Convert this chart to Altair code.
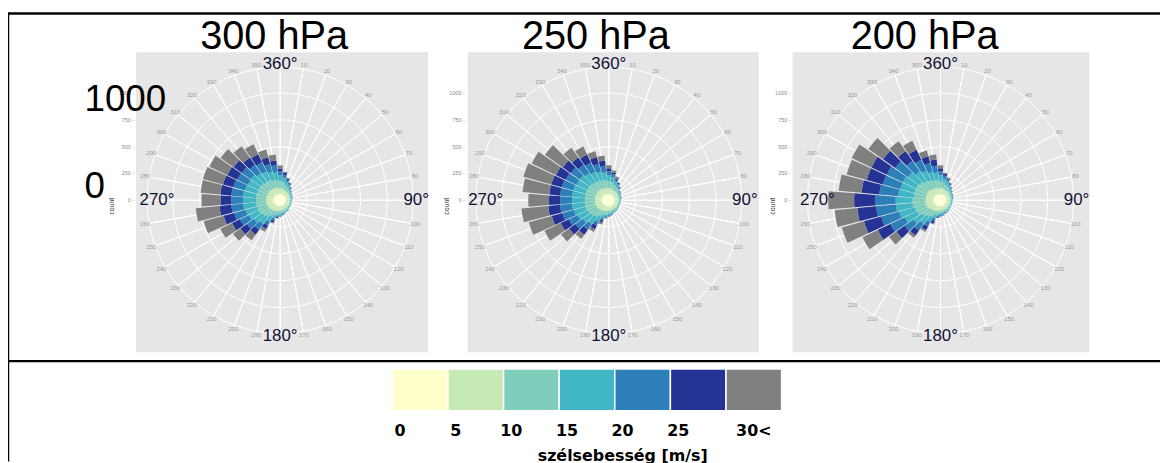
import altair as alt
import pandas as pd

# ---------------- data ----------------
DIRS = [0, 10, 20, 30, 40, 50, 60, 70, 80, 90, 100, 110, 120, 130, 140, 150, 160, 170,
        180, 190, 200, 210, 220, 230, 240, 250, 260, 270, 280, 290, 300, 310, 320, 330, 340, 350]
SPEED_CLASSES = ["0-5", "5-10", "10-15", "15-20", "20-25", "25-30", "30<"]
SPEED_COLORS = ["#ffffcc", "#c7e9b4", "#7fcdbb", "#41b6c4", "#2c7fb8", "#253494", "#808080"]
LEVELS = ["300 hPa", "250 hPa", "200 hPa"]

# counts per direction bin, one list per speed class
P300_0_5 = [55, 57, 54, 56, 52, 55, 53, 54, 56, 52, 55, 53, 54, 51, 55, 53, 56, 54, 57, 55, 58, 56, 59, 57, 60, 63, 66, 64, 67, 65, 63, 66, 62, 58, 57, 56]
P300_5_10 = [56, 55, 47, 45, 46, 44, 38, 37, 36, 37, 35, 36, 38, 37, 36, 38, 37, 39, 38, 46, 47, 56, 57, 64, 66, 65, 67, 65, 66, 64, 65, 66, 64, 65, 63, 57]
P300_10_15 = [65, 56, 46, 37, 28, 19, 18, 17, 18, 10, 9, 9, 10, 9, 17, 18, 19, 20, 28, 29, 37, 56, 74, 84, 93, 94, 92, 95, 93, 92, 94, 93, 84, 83, 74, 75]
P300_15_20 = [56, 46, 37, 28, 19, 9, 9, 8, 9, 9, 8, 9, 9, 8, 9, 9, 10, 18, 19, 19, 37, 56, 83, 93, 102, 111, 120, 121, 120, 119, 111, 112, 102, 93, 83, 74]
P300_20_25 = [37, 28, 19, 9, 8, 7, 6, 3, 2, 2, 1, 1, 1, 2, 2, 3, 8, 9, 9, 10, 19, 37, 65, 83, 93, 111, 112, 110, 111, 112, 110, 102, 93, 92, 74, 65]
P300_25_30 = [28, 19, 10, 9, 3, 2, 1, 1, 0, 0, 0, 0, 0, 0, 1, 1, 2, 2, 3, 9, 19, 37, 56, 74, 83, 102, 111, 102, 103, 101, 102, 93, 83, 84, 65, 46]
P300_30P = [28, 9, 8, 2, 0, 0, 0, 0, 0, 0, 0, 0, 0, 0, 0, 0, 0, 0, 1, 2, 9, 28, 65, 83, 120, 194, 222, 176, 185, 194, 185, 148, 130, 102, 74, 56]

P250_0_5 = [57, 55, 56, 54, 55, 53, 56, 52, 54, 55, 53, 56, 52, 55, 54, 56, 53, 55, 56, 57, 56, 58, 57, 59, 61, 64, 65, 66, 64, 66, 65, 64, 63, 57, 58, 55]
P250_5_10 = [55, 57, 46, 47, 45, 43, 39, 36, 38, 36, 37, 35, 37, 38, 37, 36, 38, 38, 40, 45, 48, 55, 58, 63, 65, 66, 66, 64, 67, 65, 64, 65, 63, 64, 62, 58]
P250_10_15 = [64, 57, 47, 36, 29, 18, 19, 18, 17, 11, 10, 9, 9, 10, 16, 17, 18, 21, 27, 30, 38, 55, 75, 83, 92, 95, 93, 94, 92, 93, 93, 92, 85, 82, 75, 74]
P250_15_20 = [57, 47, 36, 29, 18, 10, 9, 9, 8, 8, 9, 8, 9, 9, 8, 10, 11, 17, 18, 20, 36, 57, 84, 92, 103, 112, 121, 120, 121, 120, 112, 111, 103, 92, 84, 75]
P250_20_25 = [36, 29, 18, 10, 9, 6, 5, 4, 3, 2, 2, 1, 1, 1, 2, 3, 7, 8, 10, 11, 20, 36, 64, 84, 92, 112, 111, 111, 112, 111, 111, 103, 92, 93, 75, 64]
P250_25_30 = [29, 18, 9, 10, 4, 2, 2, 1, 1, 0, 0, 0, 0, 0, 1, 1, 2, 3, 3, 8, 18, 38, 57, 73, 84, 103, 112, 103, 102, 102, 101, 92, 84, 83, 64, 47]
P250_30P = [28, 19, 19, 0, 0, 0, 0, 0, 0, 0, 0, 0, 0, 0, 0, 0, 0, 0, 0, 0, 19, 28, 46, 93, 167, 222, 250, 194, 250, 269, 250, 204, 111, 83, 56, 46]

P200_0_5 = [56, 54, 57, 55, 53, 56, 54, 52, 55, 53, 56, 54, 53, 55, 52, 56, 54, 57, 55, 56, 58, 57, 59, 60, 64, 65, 66, 67, 65, 66, 64, 65, 63, 58, 56, 57]
P200_5_10 = [56, 56, 46, 46, 46, 45, 37, 38, 36, 37, 36, 38, 37, 36, 37, 38, 37, 38, 37, 46, 46, 56, 56, 65, 74, 74, 75, 74, 73, 74, 75, 74, 65, 65, 65, 56]
P200_10_15 = [65, 56, 46, 37, 28, 19, 18, 19, 18, 10, 9, 10, 9, 10, 18, 19, 18, 19, 28, 28, 37, 56, 74, 83, 102, 111, 120, 120, 111, 111, 111, 102, 93, 83, 74, 74]
P200_15_20 = [56, 37, 37, 28, 19, 9, 10, 9, 9, 8, 9, 9, 8, 9, 9, 10, 10, 19, 18, 19, 37, 56, 83, 102, 130, 148, 157, 157, 148, 139, 139, 130, 111, 102, 83, 74]
P200_20_25 = [37, 28, 19, 9, 9, 8, 7, 5, 4, 3, 2, 2, 2, 3, 3, 4, 9, 9, 10, 9, 28, 46, 74, 102, 148, 176, 185, 194, 176, 167, 167, 148, 120, 111, 83, 65]
P200_25_30 = [28, 19, 9, 9, 3, 2, 1, 1, 0, 0, 0, 0, 0, 0, 1, 1, 2, 3, 4, 9, 19, 37, 56, 93, 130, 167, 176, 194, 167, 157, 157, 139, 111, 102, 65, 56]
P200_30P = [28, 9, 9, 0, 0, 0, 0, 0, 0, 0, 0, 0, 0, 0, 0, 0, 0, 0, 0, 0, 9, 19, 28, 83, 157, 213, 213, 241, 213, 194, 204, 167, 111, 93, 56, 46]

PANEL_DATA = {
    "300 hPa": [P300_0_5, P300_5_10, P300_10_15, P300_15_20, P300_20_25, P300_25_30, P300_30P],
    "250 hPa": [P250_0_5, P250_5_10, P250_10_15, P250_15_20, P250_20_25, P250_25_30, P250_30P],
    "200 hPa": [P200_0_5, P200_5_10, P200_10_15, P200_15_20, P200_20_25, P200_25_30, P200_30P],
}

R_TICKS = [0, 250, 500, 750, 1000]
R_RINGS = [250, 500, 750, 1000]
DEG_LABELS = [10, 20, 30, 40, 50, 60, 70, 80, 100, 110, 120, 130, 140, 150, 160, 170,
              190, 200, 210, 220, 230, 240, 250, 260, 280, 290, 300, 310, 320, 330, 340, 350]
BIG_DEG_TEXT = ["360°", "90°", "180°"]
BIG_DEG_AT = [0, 90, 180]
WEST_TEXT = ["270°"]
WEST_AT = [270]

LEGEND_LABELS = ["0", "5", "10", "15", "20", "25", "30<"]
LEGEND_LO = [0, 5, 10, 15, 20, 25, 30]
LEGEND_HI = [5, 10, 15, 20, 25, 30, 35]
LEGEND_TITLE = "szélsebesség [m/s]"
RADIAL_TEXT = ["1000", "0"]

# ---------------- tables ----------------
rows = []
for lev in LEVELS:
    for ci, arr in enumerate(PANEL_DATA[lev]):
        for d, v in zip(DIRS, arr):
            rows.append({"level": lev, "dir": d, "cls": ci, "speed": SPEED_CLASSES[ci], "count": v})
df = pd.DataFrame(rows)
dir_df = pd.DataFrame({"dir": DIRS})
ring_df = pd.DataFrame({"ring": R_RINGS})
tick_df = pd.DataFrame({"v": R_TICKS})
deg_df = pd.DataFrame({"dir": DEG_LABELS})
big_df = pd.DataFrame({"dir": BIG_DEG_AT, "lab": BIG_DEG_TEXT})
west_df = pd.DataFrame({"dir": WEST_AT, "lab": WEST_TEXT})
leg_df = pd.DataFrame({"speed": SPEED_CLASSES, "lo": LEGEND_LO, "hi": LEGEND_HI, "lab": LEGEND_LABELS})
one = pd.DataFrame({"k": [0]})

TH = alt.Scale(domain=[0, 360])
RS = alt.Scale(type="linear", domain=[0, 1000], range=[0, 108], nice=False, zero=True)
CS = alt.Scale(domain=SPEED_CLASSES, range=SPEED_COLORS)
XS = alt.Scale(domain=[0, 35], range=[387, 779], nice=False, zero=False)
TWO_PI = 6.283185307179586
FONT = "Liberation Sans"


def panel(level, cx, cy, left, right, top, bottom, title_x, tick_x, count_x):
    layers = []
    layers.append(alt.Chart(one).mark_rect(color="#e6e6e6").encode(
        x=alt.value(left), x2=alt.value(right), y=alt.value(top), y2=alt.value(bottom)))
    # spokes + outer circle
    layers.append(alt.Chart(dir_df).transform_calculate(d2="datum.dir + 10").mark_arc(
        fillOpacity=0, stroke="white", strokeWidth=1).encode(
        theta=alt.Theta("dir:Q", scale=TH, stack=False), theta2="d2:Q",
        radius=alt.value(134), radius2=alt.value(0),
        x=alt.value(cx), y=alt.value(cy)))
    # rings
    layers.append(alt.Chart(ring_df).mark_arc(
        fillOpacity=0, stroke="white", strokeWidth=1).encode(
        theta=alt.value(0), theta2=alt.value(TWO_PI),
        radius=alt.Radius("ring:Q", scale=RS, stack=False), radius2=alt.value(0),
        x=alt.value(cx), y=alt.value(cy)))
    # stacked bars
    layers.append(alt.Chart(df).transform_filter(alt.datum.level == level)
                  .transform_filter(alt.datum.count > 0)
                  .transform_stack(stack="count", groupby=["dir"], as_=["r0", "r1"],
                                   sort=[alt.SortField("cls", order="ascending")])
                  .transform_calculate(t0="datum.dir - 4.6", t1="datum.dir + 4.6")
                  .mark_arc(stroke=None).encode(
        theta=alt.Theta("t0:Q", scale=TH, stack=False), theta2="t1:Q",
        radius=alt.Radius("r1:Q", scale=RS, stack=False), radius2="r0:Q",
        color=alt.Color("speed:N", scale=CS, legend=None),
        x=alt.value(cx), y=alt.value(cy)))
    # small degree labels
    layers.append(alt.Chart(deg_df).mark_text(fontSize=6, color="#9a9a9a", font=FONT).encode(
        theta=alt.Theta("dir:Q", scale=TH, stack=False), radius=alt.value(138),
        text=alt.Text("dir:Q"), x=alt.value(cx), y=alt.value(cy)))
    # big degree labels
    layers.append(alt.Chart(big_df).mark_text(fontSize=17, color="#111133", font=FONT).encode(
        theta=alt.Theta("dir:Q", scale=TH, stack=False), radius=alt.value(137),
        text="lab:N", x=alt.value(cx), y=alt.value(cy)))
    layers.append(alt.Chart(west_df).mark_text(fontSize=17, color="#111133", font=FONT).encode(
        theta=alt.Theta("dir:Q", scale=TH, stack=False), radius=alt.value(124),
        text="lab:N", x=alt.value(cx), y=alt.value(cy)))
    # radial axis ticks
    layers.append(alt.Chart(tick_df).transform_calculate(lab="datum.v + ' -'").mark_text(
        fontSize=5.5, color="#8a8a8a", align="right", baseline="middle", font=FONT).encode(
        theta=alt.value(0), radius=alt.Radius("v:Q", scale=RS, stack=False),
        text="lab:N", x=alt.value(tick_x), y=alt.value(cy)))
    layers.append(alt.Chart(one).mark_text(
        fontSize=7, color="#333333", angle=270, baseline="middle", font=FONT).encode(
        text=alt.value("count"), x=alt.value(count_x), y=alt.value(cy + 6)))
    # title
    layers.append(alt.Chart(one).mark_text(
        fontSize=40, color="#000000", baseline="alphabetic", font=FONT).encode(
        text=alt.value(level), x=alt.value(title_x), y=alt.value(40)))
    return layers


layers = []
layers += panel("300 hPa", 274, 192, 129, 423, 43, 345, 268, 127, 105)
layers += panel("250 hPa", 605, 192, 463, 756, 43, 345, 592, 460, 442)
layers += panel("200 hPa", 939, 192, 790, 1089, 43, 345, 923, 788, 770)

# big radial annotation
layers.append(alt.Chart(one).mark_text(fontSize=37, align="left", baseline="alphabetic",
                                       font=FONT, color="#000000").encode(
    text=alt.value(RADIAL_TEXT[0]), x=alt.value(77), y=alt.value(102)))
layers.append(alt.Chart(one).mark_text(fontSize=37, align="left", baseline="alphabetic",
                                       font=FONT, color="#000000").encode(
    text=alt.value(RADIAL_TEXT[1]), x=alt.value(77), y=alt.value(190)))

# frame
layers.append(alt.Chart(one).mark_rule(color="black", strokeWidth=2.5).encode(
    x=alt.value(0), x2=alt.value(1160), y=alt.value(4)))
layers.append(alt.Chart(one).mark_rule(color="black", strokeWidth=2.5).encode(
    x=alt.value(0), x2=alt.value(1160), y=alt.value(354)))
layers.append(alt.Chart(one).mark_rule(color="black", strokeWidth=2.5).encode(
    x=alt.value(0), y=alt.value(4), y2=alt.value(455)))

# legend
layers.append(alt.Chart(leg_df).mark_rect(stroke="white", strokeWidth=1.5).encode(
    x=alt.X("lo:Q", scale=XS, axis=None), x2="hi:Q",
    y=alt.value(362), y2=alt.value(404),
    color=alt.Color("speed:N", scale=CS, legend=None)))
layers.append(alt.Chart(leg_df).transform_calculate(
    pos="datum.lo < 30 ? datum.lo + 0.7 : (datum.lo + datum.hi) / 2").mark_text(
    fontSize=16, fontWeight="bold", font="DejaVu Sans", color="#000000", baseline="middle").encode(
    x=alt.X("pos:Q", scale=XS, axis=None), y=alt.value(424), text="lab:N"))
layers.append(alt.Chart(one).mark_text(
    fontSize=16, fontWeight="bold", font="DejaVu Sans", color="#000000", baseline="alphabetic").encode(
    text=alt.value(LEGEND_TITLE), x=alt.value(619), y=alt.value(455)))

chart = alt.layer(*layers).properties(
    width=1160, height=455, padding=0,
    autosize=alt.AutoSizeParams(type="none"),
    background="white",
).configure_view(stroke=None)

chart.save("out.html", embed_options={"renderer": "svg", "actions": False})
